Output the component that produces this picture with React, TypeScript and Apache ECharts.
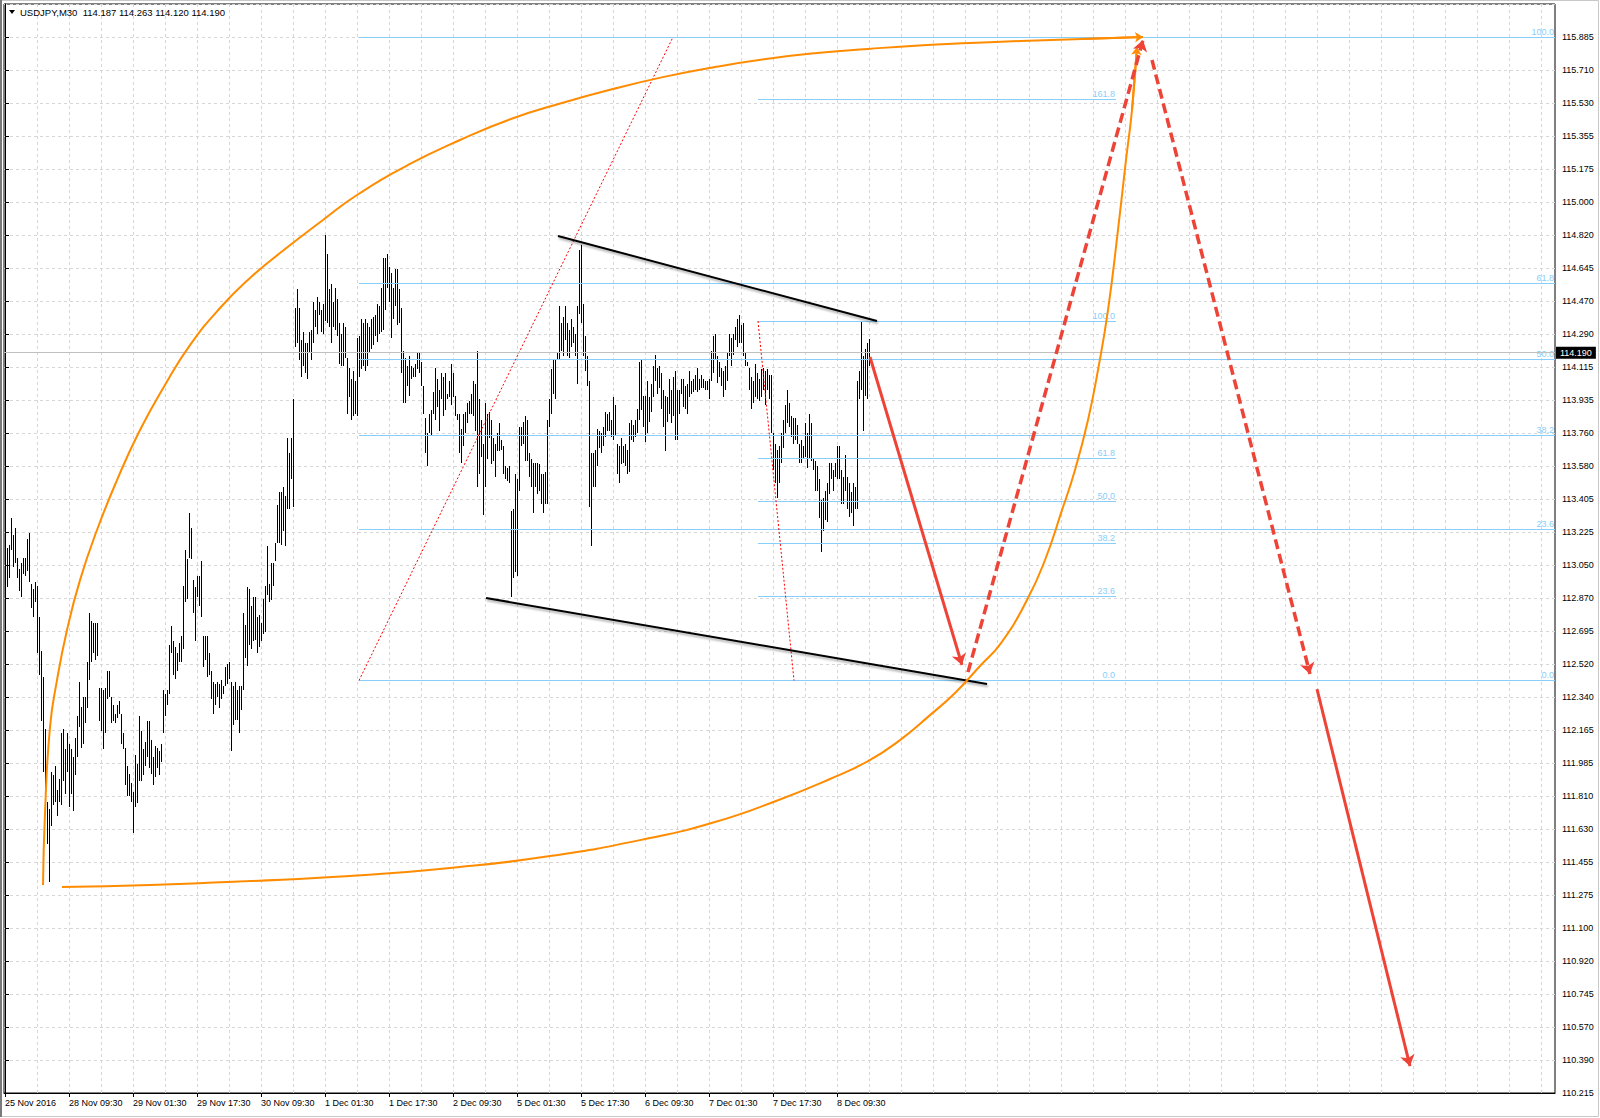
import React, { useEffect, useRef } from 'react';
import * as echarts from 'echarts';

// ---------- axis tick labels ----------
const Y_LABELS = [
  '110.215', '110.390', '110.570', '110.745', '110.920', '111.100', '111.275', '111.455', '111.630', '111.810',
  '111.985', '112.165', '112.340', '112.520', '112.695', '112.870', '113.050', '113.225', '113.405', '113.580',
  '113.760', '113.935', '114.115', '114.290', '114.470', '114.645', '114.820', '115.000', '115.175', '115.355',
  '115.530', '115.710', '115.885',
];
const X_LABELS = [
  '25 Nov 2016', '28 Nov 09:30', '29 Nov 01:30', '29 Nov 17:30', '30 Nov 09:30', '1 Dec 01:30', '1 Dec 17:30',
  '2 Dec 09:30', '5 Dec 01:30', '5 Dec 17:30', '6 Dec 09:30', '7 Dec 01:30', '7 Dec 17:30', '8 Dec 09:30',
];
const BARS_PER_LABEL = 32;

// ---------- header ----------
const SYMBOL = 'USDJPY,M30';
const OHLC_LAST = ['114.187', '114.263', '114.120', '114.190'];
const LAST_CLOSE = 114.19;

// ---------- M30 bars (high / low) ----------
const HIGHS = [
  113.14, 113.14, 113.16, 113.30, 113.21, 113.25, 113.09, 113.03, 113.06, 113.09,
  113.09, 113.19, 113.22, 112.95, 112.92, 112.96, 112.94, 112.77, 112.59, 112.45,
  112.17, 111.78, 111.74, 111.94, 111.92, 111.97, 111.84, 111.90, 112.15, 112.17,
  112.06, 112.15, 112.09, 112.06, 112.02, 112.12, 112.24, 112.42, 112.29, 112.34,
  112.34, 112.53, 112.79, 112.75, 112.74, 112.74, 112.74, 112.39, 112.39, 112.38,
  112.39, 112.48, 112.48, 112.34, 112.30, 112.25, 112.30, 112.32, 112.25, 112.15,
  112.07, 111.97, 111.93, 111.88, 111.83, 112.03, 111.98, 112.24, 112.16, 112.06,
  112.10, 112.21, 112.21, 112.11, 112.02, 112.08, 112.07, 112.05, 112.09, 112.38,
  112.36, 112.38, 112.62, 112.72, 112.64, 112.61, 112.58, 112.63, 112.67, 112.94,
  113.13, 113.08, 113.33, 113.25, 112.97, 112.93, 112.99, 112.99, 113.07, 112.67,
  112.67, 112.67, 112.58, 112.48, 112.42, 112.41, 112.42, 112.41, 112.43, 112.40,
  112.50, 112.52, 112.53, 112.42, 112.40, 112.42, 112.38, 112.40, 112.40, 112.79,
  112.73, 112.93, 112.92, 112.83, 112.88, 112.88, 112.77, 112.78, 112.74, 112.87,
  112.94, 113.15, 112.95, 113.06, 113.06, 113.17, 113.37, 113.44, 113.44, 113.47,
  113.42, 113.73, 113.65, 113.73, 113.94, 114.43, 114.53, 114.43, 114.26, 114.30,
  114.24, 114.24, 114.30, 114.31, 114.46, 114.42, 114.49, 114.46, 114.42, 114.45,
  114.82, 114.72, 114.53, 114.56, 114.46, 114.54, 114.48, 114.35, 114.29, 114.35,
  114.33, 114.16, 114.11, 114.05, 114.09, 114.04, 114.27, 114.28, 114.37, 114.35,
  114.37, 114.35, 114.33, 114.37, 114.38, 114.39, 114.45, 114.44, 114.54, 114.70,
  114.70, 114.72, 114.65, 114.62, 114.54, 114.64, 114.64, 114.53, 114.43, 114.20,
  114.16, 114.12, 114.17, 114.12, 114.11, 114.13, 114.19, 114.19, 114.14, 114.01,
  113.84, 113.76, 113.86, 113.88, 113.98, 114.11, 114.05, 113.99, 114.08, 114.06,
  114.08, 113.97, 114.04, 114.13, 114.08, 113.96, 113.86, 113.86, 113.78, 113.86,
  113.87, 113.92, 113.93, 113.97, 114.04, 114.02, 114.20, 113.94, 113.83, 113.70,
  113.92, 113.86, 113.87, 113.83, 113.73, 113.70, 113.76, 113.81, 113.72, 113.69,
  113.58, 113.57, 113.58, 113.34, 113.35, 113.54, 113.51, 113.79, 113.79, 113.82,
  113.85, 113.83, 113.65, 113.62, 113.60, 113.60, 113.60, 113.59, 113.54, 113.54,
  113.55, 113.83, 113.94, 114.10, 114.15, 114.15, 114.19, 114.44, 114.35, 114.38,
  114.44, 114.35, 114.31, 114.37, 114.33, 114.29, 114.44, 114.74, 114.77, 114.45,
  114.28, 114.17, 114.04, 113.65, 113.65, 113.67, 113.78, 113.77, 113.76, 113.79,
  113.87, 113.86, 113.87, 113.83, 113.95, 113.91, 113.70, 113.69, 113.73, 113.69,
  113.70, 113.67, 113.81, 113.83, 113.80, 113.83, 113.89, 114.14, 114.15, 113.96,
  113.96, 114.04, 113.95, 114.02, 114.12, 114.18, 114.11, 114.12, 114.08, 113.99,
  113.96, 113.95, 114.05, 113.99, 114.06, 114.09, 113.99, 113.99, 114.05, 114.05,
  114.01, 114.02, 114.09, 114.04, 114.05, 114.07, 114.11, 114.05, 114.07, 114.05,
  114.04, 114.04, 114.05, 114.20, 114.28, 114.29, 114.17, 114.14, 114.11, 114.09,
  114.12, 114.19, 114.29, 114.27, 114.29, 114.33, 114.37, 114.39, 114.34, 114.35,
  114.19, 114.14, 114.11, 114.06, 114.04, 114.13, 114.08, 114.05, 114.10, 114.11,
  114.09, 114.10, 114.07, 114.07, 113.76, 113.70, 113.67, 113.69, 113.76, 113.83,
  113.91, 113.99, 113.92, 113.85, 113.84, 113.84, 113.80, 113.70, 113.72, 113.69,
  113.81, 113.76, 113.86, 113.81, 113.62, 113.61, 113.58, 113.51, 113.40, 113.41,
  113.45, 113.49, 113.60, 113.60, 113.56, 113.60, 113.69, 113.69, 113.56, 113.52,
  113.64, 113.52, 113.49, 113.44, 113.49, 113.47, 114.04, 114.09, 114.36, 114.17,
  114.21, 114.24, 114.263,
];
const LOWS = [
  112.90, 112.93, 112.98, 113.13, 113.04, 113.06, 112.98, 112.91, 112.88, 113.00,
  112.99, 113.02, 112.96, 112.82, 112.77, 112.85, 112.58, 112.46, 112.21, 111.94,
  111.72, 111.55, 111.35, 111.65, 111.76, 111.78, 111.70, 111.78, 111.76, 111.89,
  111.82, 111.94, 111.75, 111.82, 111.73, 111.92, 112.02, 112.18, 112.07, 112.09,
  112.20, 112.28, 112.43, 112.53, 112.58, 112.54, 112.56, 112.21, 112.16, 112.06,
  112.15, 112.33, 112.34, 112.20, 112.21, 112.20, 112.23, 112.25, 112.09, 112.06,
  111.87, 111.81, 111.81, 111.78, 111.61, 111.75, 111.77, 111.89, 111.89, 111.92,
  111.97, 112.02, 111.96, 111.93, 111.87, 111.91, 111.96, 111.92, 111.99, 112.15,
  112.24, 112.30, 112.36, 112.58, 112.46, 112.44, 112.48, 112.53, 112.53, 112.60,
  112.85, 112.87, 113.09, 113.08, 112.79, 112.64, 112.88, 112.83, 112.77, 112.50,
  112.54, 112.45, 112.46, 112.33, 112.25, 112.30, 112.34, 112.28, 112.33, 112.36,
  112.40, 112.41, 112.44, 112.05, 112.19, 112.22, 112.22, 112.15, 112.27, 112.38,
  112.55, 112.51, 112.62, 112.60, 112.64, 112.65, 112.58, 112.61, 112.64, 112.68,
  112.69, 112.89, 112.85, 112.86, 112.94, 113.07, 113.17, 113.17, 113.16, 113.23,
  113.15, 113.35, 113.35, 113.51, 113.36, 114.22, 114.24, 114.15, 114.06, 114.12,
  114.08, 114.05, 114.19, 114.15, 114.24, 114.33, 114.29, 114.39, 114.30, 114.29,
  114.36, 114.35, 114.33, 114.24, 114.33, 114.31, 114.28, 114.13, 114.12, 114.12,
  114.16, 113.86, 113.95, 113.83, 113.85, 113.86, 113.85, 114.06, 114.10, 114.12,
  114.09, 114.12, 114.19, 114.21, 114.23, 114.28, 114.25, 114.29, 114.30, 114.31,
  114.42, 114.54, 114.46, 114.27, 114.37, 114.44, 114.34, 114.35, 114.08, 113.92,
  113.92, 114.01, 113.96, 114.05, 114.06, 114.06, 114.10, 114.08, 114.01, 113.86,
  113.65, 113.58, 113.76, 113.75, 113.86, 113.83, 113.90, 113.77, 113.94, 113.85,
  113.88, 113.94, 113.95, 113.91, 113.95, 113.85, 113.83, 113.65, 113.60, 113.69,
  113.76, 113.81, 113.86, 113.86, 113.85, 113.77, 113.47, 113.54, 113.63, 113.32,
  113.47, 113.62, 113.73, 113.59, 113.61, 113.52, 113.66, 113.66, 113.67, 113.54,
  113.51, 113.50, 113.49, 112.88, 112.98, 113.01, 112.99, 113.45, 113.69, 113.70,
  113.61, 113.61, 113.52, 113.47, 113.33, 113.47, 113.43, 113.45, 113.38, 113.33,
  113.38, 113.38, 113.79, 113.86, 113.97, 113.94, 114.15, 114.15, 114.20, 114.17,
  114.26, 114.17, 114.16, 114.22, 114.24, 114.17, 114.02, 114.40, 114.35, 114.17,
  114.09, 114.01, 113.36, 113.15, 113.47, 113.47, 113.58, 113.68, 113.65, 113.69,
  113.74, 113.77, 113.77, 113.74, 113.72, 113.75, 113.54, 113.49, 113.59, 113.60,
  113.58, 113.54, 113.55, 113.72, 113.71, 113.74, 113.76, 113.83, 113.88, 113.79,
  113.71, 113.76, 113.82, 113.87, 113.95, 114.04, 113.97, 114.00, 113.89, 113.79,
  113.66, 113.82, 113.86, 113.81, 113.85, 113.72, 113.72, 113.86, 113.97, 113.90,
  113.89, 113.86, 113.95, 113.97, 113.98, 113.99, 113.98, 113.99, 114.00, 114.00,
  113.99, 113.99, 113.94, 114.04, 114.08, 114.15, 114.03, 114.06, 114.01, 113.95,
  113.99, 114.04, 114.17, 114.12, 114.18, 114.26, 114.22, 114.24, 114.24, 114.17,
  114.12, 114.12, 113.99, 113.89, 113.92, 113.95, 113.94, 113.93, 113.95, 113.99,
  113.91, 113.99, 113.94, 113.76, 113.56, 113.49, 113.41, 113.49, 113.60, 113.68,
  113.76, 113.81, 113.79, 113.74, 113.70, 113.72, 113.70, 113.60, 113.60, 113.62,
  113.63, 113.57, 113.62, 113.61, 113.56, 113.45, 113.45, 113.30, 113.12, 113.23,
  113.29, 113.28, 113.43, 113.51, 113.45, 113.52, 113.51, 113.51, 113.38, 113.38,
  113.45, 113.35, 113.31, 113.33, 113.26, 113.35, 113.35, 113.94, 113.99, 113.77,
  113.96, 113.94, 114.12,
];

// ---------- fibonacci retracements (anchor prices, bar index span) ----------
const FIB1_LEVELS = [0, 23.6, 38.2, 50, 61.8, 100];
const FIB1_P0 = 112.43;
const FIB1_P100 = 115.885;
const FIB1_SPAN = [177, 775];
const FIB1_DIAG = [[177, 112.43], [334, 115.885]];

const FIB2_LEVELS = [0, 23.6, 38.2, 50, 61.8, 100, 161.8];
const FIB2_P0 = 112.43;
const FIB2_P100 = 114.36;
const FIB2_SPAN = [376.5, 555.5];
const FIB2_DIAG = [[376.5, 114.36], [394.5, 112.43]];

// ---------- channel lines ----------
const CHANNEL_UPPER = [[276.5, 114.817], [436, 114.36]];
const CHANNEL_LOWER = [[240.5, 112.873], [491, 112.411]];

// ---------- projection arrows ----------
const ARROWS_SOLID = [
  [[432.5, 114.167], [478.5, 112.513]],
  [[656, 112.384], [702.5, 110.359]],
];
const ARROWS_DASHED = [
  [[481.5, 112.475], [569, 115.869]],
  [[573.5, 115.762], [652.5, 112.465]],
];

// ---------- orange arcs ----------
const ARC_UPPER = [
  [19, 111.332], [20, 111.718], [22.5, 112.18], [26, 112.432], [31, 112.701], [37.5, 112.969],
  [46, 113.238], [56, 113.506], [67.5, 113.775], [80, 114.017], [92.5, 114.231], [107.5, 114.43],
  [122.5, 114.591], [137.5, 114.725], [159, 114.903], [176, 115.037], [201.5, 115.198],
  [227.5, 115.332], [253, 115.445], [278.5, 115.531], [304, 115.606], [329.5, 115.671],
  [355, 115.724], [380.5, 115.767], [406, 115.799], [431.5, 115.821], [457, 115.84],
  [482.5, 115.853], [508, 115.864], [538.5, 115.875], [569, 115.885],
];
const ARC_LOWER = [
  [28.5, 111.321], [72.5, 111.332], [122.5, 111.353], [172.5, 111.38], [222.5, 111.423],
  [272.5, 111.487], [322.5, 111.584], [355, 111.67], [385.5, 111.783], [412.5, 111.901],
  [431.5, 111.997], [447.5, 112.11], [462.5, 112.244], [475, 112.363], [487.5, 112.508],
  [498, 112.631], [511, 112.862], [520, 113.077], [528.5, 113.345], [535, 113.56],
  [541.5, 113.829], [546.5, 114.097], [551.5, 114.419], [556.5, 114.849], [560.5, 115.225],
  [563.5, 115.493], [566, 115.832],
];

// ---------- scale ----------
const Y_MIN = 110.215;
const Y_STEP = 110.215 / 622;
const Y_MAX = Y_MIN + 33 * Y_STEP;
const X_MIN = -0.5;
const X_MAX = 775;
const GRID_EVERY = 16;

const FONT = '"Liberation Sans", Arial, sans-serif';
const FIB_COLOR = '#87cefa';
const RED = '#ee4438';
const ORANGE = '#ff8c00';

export default function App() {
  const ref = useRef<HTMLDivElement | null>(null);

  useEffect(() => {
    if (!ref.current) return;
    const chart = echarts.init(ref.current, undefined, { renderer: 'svg' });

    const barData = HIGHS.map((h, i) => [i, h, LOWS[i]]);
    const gridX: number[] = [];
    for (let v = GRID_EVERY; v < X_MAX; v += GRID_EVERY) gridX.push(v);
    const xTicks = X_LABELS.map((_, k) => k * BARS_PER_LABEL);

    const fibRows: number[][] = [];
    FIB1_LEVELS.forEach((lv) => fibRows.push([FIB1_SPAN[0], FIB1_SPAN[1], FIB1_P0 + (FIB1_P100 - FIB1_P0) * lv / 100, lv]));
    FIB2_LEVELS.forEach((lv) => fibRows.push([FIB2_SPAN[0], FIB2_SPAN[1], FIB2_P0 + (FIB2_P100 - FIB2_P0) * lv / 100, lv]));

    const option: any = {
      animation: false,
      backgroundColor: '#ffffff',
      textStyle: { fontFamily: FONT },
      grid: {
        left: 4, top: 4, width: 1551, height: 1089,
        show: true, borderColor: '#000', borderWidth: 1, backgroundColor: 'transparent',
        containLabel: false,
      },
      xAxis: [{
        type: 'value', min: X_MIN, max: X_MAX,
        axisLine: { show: true, onZero: false, lineStyle: { color: '#000', width: 1 } },
        axisTick: { show: true, customValues: xTicks, length: 4, lineStyle: { color: '#000' } },
        axisLabel: {
          show: true, customValues: xTicks, align: 'left', margin: 5, fontSize: 9, color: '#000', fontFamily: FONT,
          formatter: (v: number) => X_LABELS[Math.round(v / BARS_PER_LABEL)] ?? '',
        },
        splitLine: { show: false },
      }],
      yAxis: [{
        type: 'value', position: 'right', min: Y_MIN, max: Y_MAX, interval: Y_STEP,
        axisLine: { show: true, lineStyle: { color: '#000', width: 1 } },
        axisTick: { show: true, inside: false, length: 4, lineStyle: { color: '#000' } },
        axisLabel: {
          show: true, margin: 7, fontSize: 9, color: '#000', fontFamily: FONT, showMaxLabel: false,
          formatter: (v: number) => {
            const k = Math.round((v - Y_MIN) / Y_STEP);
            return k >= 0 && k < Y_LABELS.length ? Y_LABELS[k] : '';
          },
        },
        splitLine: { show: true, lineStyle: { color: '#d6d6d6', type: [3, 3], width: 1 } },
      }],
      graphic: [
        { type: 'rect', silent: true, z: 100, shape: { x: 0.5, y: 0.5, width: 1598, height: 1116 }, style: { fill: 'none', stroke: '#c8c8c8', lineWidth: 1 } },
        { type: 'line', silent: true, z: 100, shape: { x1: 1, y1: 0, x2: 1, y2: 1117 }, style: { stroke: '#7a7a7a', lineWidth: 2 } },
        { type: 'polygon', silent: true, z: 100, shape: { points: [[9, 10], [15, 10], [12, 14]] }, style: { fill: '#000' } },
        {
          type: 'text', silent: true, z: 100, x: 20, y: 12,
          style: {
            text: SYMBOL + '\u00a0\u00a0' + OHLC_LAST.join('\u00a0'),
            fill: '#000', fontSize: 9.5, fontFamily: FONT, verticalAlign: 'middle', align: 'left',
          },
        },
      ],
      series: [
        {
          type: 'custom', name: 'vgrid', silent: true, z: 0,
          data: gridX.map((v) => [v, Y_MIN]),
          encode: { x: 0, y: 1 },
          renderItem: (params: any, api: any) => {
            const p = api.coord([api.value(0), Y_MIN]);
            const cs = params.coordSys;
            const x = Math.floor(p[0]) + 0.5;
            return {
              type: 'line', silent: true,
              shape: { x1: x, y1: cs.y, x2: x, y2: cs.y + cs.height },
              style: { stroke: '#d6d6d6', lineDash: [3, 3], lineWidth: 1 },
            };
          },
        },
        {
          type: 'custom', name: 'USDJPY', z: 2, silent: true,
          data: barData,
          encode: { x: 0, y: [1, 2] },
          renderItem: (params: any, api: any) => {
            const i = api.value(0);
            const hi = api.coord([i, api.value(1)]);
            const lo = api.coord([i, api.value(2)]);
            const x = Math.floor(hi[0]) + 0.5;
            return {
              type: 'line',
              shape: { x1: x, y1: Math.round(hi[1]), x2: x, y2: Math.max(Math.round(lo[1]), Math.round(hi[1]) + 1) },
              style: { stroke: '#000', lineWidth: 1 },
            };
          },
        },
        {
          type: 'custom', name: 'fib', z: 3, silent: true,
          data: fibRows,
          encode: { x: [0, 1], y: 2 },
          renderItem: (params: any, api: any) => {
            const a = api.coord([api.value(0), api.value(2)]);
            const b = api.coord([api.value(1), api.value(2)]);
            const y = Math.round(a[1]) + 0.5;
            return {
              type: 'group',
              children: [
                { type: 'line', shape: { x1: a[0], y1: y, x2: b[0], y2: y }, style: { stroke: FIB_COLOR, lineWidth: 1 } },
                {
                  type: 'text', x: b[0] - 1, y: y - 1,
                  style: { text: Number(api.value(3)).toFixed(1), fill: FIB_COLOR, fontSize: 9, fontFamily: FONT, align: 'right', verticalAlign: 'bottom' },
                },
              ],
            };
          },
        },
        {
          type: 'lines', name: 'fibDiag', coordinateSystem: 'cartesian2d', z: 4, silent: true,
          symbol: 'none',
          lineStyle: { color: '#ff0000', width: 1, type: [2, 2], opacity: 1 },
          data: [{ coords: FIB1_DIAG }, { coords: FIB2_DIAG }],
        },
        {
          type: 'lines', name: 'channel', coordinateSystem: 'cartesian2d', z: 5, silent: true,
          symbol: 'none',
          lineStyle: {
            color: '#000', width: 2, opacity: 1,
            shadowColor: 'rgba(0,0,0,0.35)', shadowBlur: 2, shadowOffsetX: 1, shadowOffsetY: 2,
          },
          data: [{ coords: CHANNEL_UPPER }, { coords: CHANNEL_LOWER }],
        },
        {
          type: 'line', name: 'arcUpper', z: 6, silent: true,
          data: ARC_UPPER, smooth: 0.5, showSymbol: false, symbol: 'none',
          lineStyle: { color: ORANGE, width: 2 },
          markLine: {
            silent: true, symbol: 'none',
            lineStyle: { color: '#c0c0c0', type: 'solid', width: 1 },
            label: {
              show: true, position: 'end', distance: 1, formatter: OHLC_LAST[3],
              color: '#fff', backgroundColor: '#000', fontSize: 9, fontFamily: FONT, padding: [2, 4, 1, 4],
            },
            data: [{ yAxis: LAST_CLOSE }],
          },
        },
        {
          type: 'line', name: 'arcLower', z: 6, silent: true,
          data: ARC_LOWER, smooth: 0.5, showSymbol: false, symbol: 'none',
          lineStyle: { color: ORANGE, width: 2 },
        },
        {
          type: 'lines', name: 'arcHeads', coordinateSystem: 'cartesian2d', z: 6, silent: true,
          symbol: ['none', 'arrow'], symbolSize: 8,
          lineStyle: { color: ORANGE, width: 2, opacity: 1 },
          data: [
            { coords: [ARC_UPPER[ARC_UPPER.length - 2], ARC_UPPER[ARC_UPPER.length - 1]] },
            { coords: [ARC_LOWER[ARC_LOWER.length - 2], ARC_LOWER[ARC_LOWER.length - 1]] },
          ],
        },
        {
          type: 'lines', name: 'arrowsSolid', coordinateSystem: 'cartesian2d', z: 7, silent: true,
          symbol: ['none', 'arrow'], symbolSize: 11,
          lineStyle: { color: RED, width: 3, opacity: 1 },
          data: ARROWS_SOLID.map((c) => ({ coords: c })),
        },
        {
          type: 'lines', name: 'arrowsDashed', coordinateSystem: 'cartesian2d', z: 7, silent: true,
          symbol: ['none', 'arrow'], symbolSize: 11,
          lineStyle: { color: RED, width: 3.5, type: [10, 5], opacity: 1 },
          data: ARROWS_DASHED.map((c) => ({ coords: c })),
        },
      ],
    };

    chart.setOption(option);
    return () => chart.dispose();
  }, []);

  return (
    <div style={{ position: 'absolute', left: 0, top: 0, width: 1600, height: 1118, background: '#fff' }}>
      <div ref={ref} style={{ width: 1600, height: 1118 }} />
    </div>
  );
}
